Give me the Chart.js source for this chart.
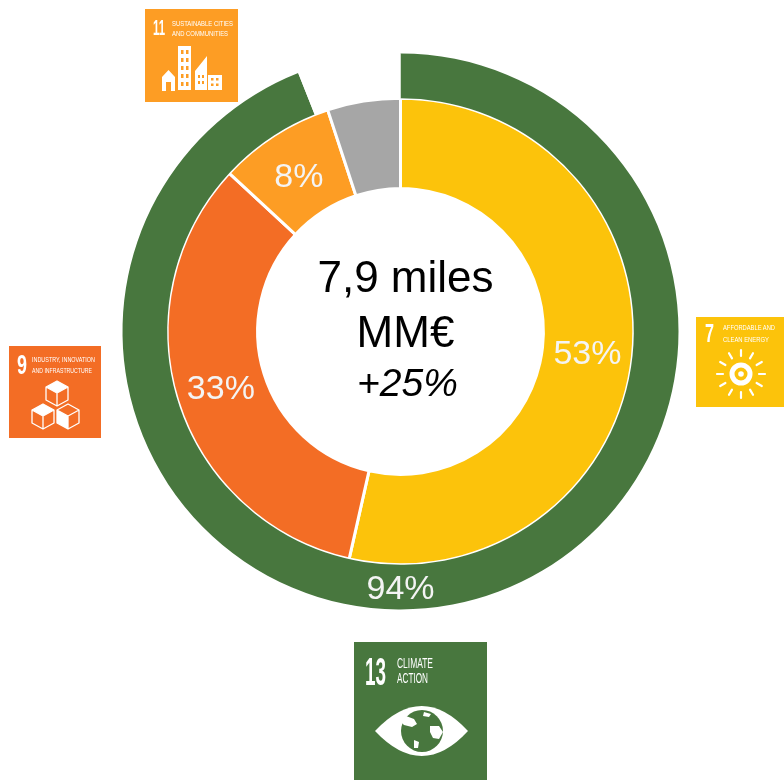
<!DOCTYPE html>
<html>
<head>
<meta charset="utf-8">
<script src="https://cdn.jsdelivr.net/npm/chart.js@4"></script>
<style>
  html, body { margin: 0; padding: 0; background: #fff; }
  #wrap { position: relative; width: 784px; height: 780px; overflow: hidden; }
  canvas { position: absolute; left: 0; top: 0; }
  .icon { position: absolute; display: block; }
  .icon > g { filter: blur(0.45px); }
  .icon text { font-family: "Liberation Sans Narrow", "Liberation Sans", sans-serif; fill: #fff; }
  .num { font-weight: bold; }
</style>
</head>
<body>
<div id="wrap">
  <canvas id="sdg-chart" width="784" height="780"></canvas>

  <!-- SDG 11 -->
  <svg class="icon" style="left:145px;top:9px" width="93" height="93" viewBox="0 0 93 93">
    <rect width="93" height="93" fill="#FD9D24"/>
    <g>
      <text class="num" x="8" y="26" font-size="22" textLength="12" lengthAdjust="spacingAndGlyphs">11</text>
      <text x="27" y="16.5" font-size="6.5" textLength="61" lengthAdjust="spacingAndGlyphs">SUSTAINABLE CITIES</text>
      <text x="27" y="27" font-size="6.5" textLength="56" lengthAdjust="spacingAndGlyphs">AND COMMUNITIES</text>
      <path d="M33 37h13v44H33z M50 81V62L62 47V81z M63 66h14v15H63z M17 68L23.5 61L30 68V82H17z" fill="#fff"/>
      <path d="M36 41h2.5v4H36z M41 41h2.5v4H41z M36 49h2.5v4H36z M41 49h2.5v4H41z M36 57h2.5v4H36z M41 57h2.5v4H41z M36 65h2.5v4H36z M41 65h2.5v4H41z M36 73h2.5v4H36z M41 73h2.5v4H41z M21 73h5v9h-5z M53 66h2v3h-2z M57 66h2v3h-2z M53 72h2v3h-2z M57 72h2v3h-2z M66 69h2.5v2.5H66z M71 69h2.5v2.5H71z M66 74.5h2.5V77H66z M71 74.5h2.5V77H71z" fill="#FD9D24"/>
    </g>
  </svg>

  <!-- SDG 9 -->
  <svg class="icon" style="left:9px;top:346px" width="92" height="92" viewBox="0 0 92 92">
    <rect width="92" height="92" fill="#F36D25"/>
    <g>
      <text class="num" x="8" y="28" font-size="27" textLength="10" lengthAdjust="spacingAndGlyphs">9</text>
      <text x="23" y="15.5" font-size="6.5" textLength="63" lengthAdjust="spacingAndGlyphs">INDUSTRY, INNOVATION</text>
      <text x="23" y="27" font-size="6.5" textLength="60" lengthAdjust="spacingAndGlyphs">AND INFRASTRUCTURE</text>
      <g fill="none" stroke="#fff" stroke-width="1.3" stroke-linejoin="round">
        <path d="M48 35L59 41V54L48 60L37 54V41z M37 41L48 47L59 41 M48 47V60" />
        <path d="M34 58L45 64V77L34 83L23 77V64z M23 64L34 70L45 64 M34 70V83" />
        <path d="M59 58L70 64V77L59 83L48 77V64z M48 64L59 70L70 64 M59 70V83" />
      </g>
      <path d="M48 35L59 41L48 47L37 41z M34 58L45 64L34 70L23 64z M48 64L59 70V83L48 77z" fill="#fff"/>
    </g>
  </svg>

  <!-- SDG 7 -->
  <svg class="icon" style="left:696px;top:317px" width="88" height="90" viewBox="0 0 88 90">
    <rect width="88" height="90" fill="#FCC30B"/>
    <g>
      <text class="num" x="9" y="25" font-size="25" textLength="9" lengthAdjust="spacingAndGlyphs">7</text>
      <text x="27" y="13" font-size="6.5" textLength="52" lengthAdjust="spacingAndGlyphs">AFFORDABLE AND</text>
      <text x="27" y="24.5" font-size="6.5" textLength="46" lengthAdjust="spacingAndGlyphs">CLEAN ENERGY</text>
      <circle cx="45" cy="57" r="9" fill="none" stroke="#fff" stroke-width="5"/>
      <circle cx="45" cy="57" r="2.8" fill="#fff"/>
      <g stroke="#fff" stroke-width="2.2" stroke-linecap="round">
        <path d="M45 39V33 M45 75V81 M27 57H21 M63 57H69 M36 41.4L33 36.2 M54 41.4L57 36.2 M36 72.6L33 77.8 M54 72.6L57 77.8 M29.4 48L24.2 45 M60.6 48L65.8 45 M29.4 66L24.2 69 M60.6 66L65.8 69"/>
      </g>
    </g>
  </svg>

  <!-- SDG 13 -->
  <svg class="icon" style="left:354px;top:642px" width="133" height="138" viewBox="0 0 133 138">
    <rect width="133" height="138" fill="#48773E"/>
    <g>
      <text class="num" x="11" y="43" font-size="39" textLength="21" lengthAdjust="spacingAndGlyphs">13</text>
      <text x="43" y="26" font-size="14" textLength="36" lengthAdjust="spacingAndGlyphs">CLIMATE</text>
      <text x="43" y="41" font-size="14" textLength="31" lengthAdjust="spacingAndGlyphs">ACTION</text>
      <path d="M21 89Q68 39 114 89Q68 139 21 89z" fill="#fff"/>
      <circle cx="68" cy="89" r="21" fill="#48773E"/>
      <path d="M52 74l8 3 3 5-5 3-8-2-3-3z M76 84l9 0 4 6-4 7-6-1-3-6z M60 98l5 2-1 6-4 0z M70 70l7 2-2 3-6-1z" fill="#fff"/>
    </g>
  </svg>
</div>

<script>
// Values
const ringLabels = ['SDG 7', 'SDG 9', 'SDG 11', 'Otros'];
const ringValues = [53, 33, 8, 5];
const ringColors = ['#FCC30B', '#F36D25', '#FD9D24', '#A6A6A6'];
const ringText = ['53%', '33%', '8%', ''];

const climateLabels = ['SDG 13', ''];
const climateValues = [94, 6];
const climateColors = ['#48773E', '#FFFFFF'];
const climateText = ['94%', ''];

const centerLines = ['7,9 miles', 'MM€', '+25%'];

// Percent labels on the slices and the text in the hole
const textPlugin = {
  id: 'sdgText',
  afterDatasetsDraw(chart) {
    const ctx = chart.ctx;
    ctx.save();
    ctx.textAlign = 'center';
    ctx.textBaseline = 'middle';

    ctx.fillStyle = '#F4F4F4';
    ctx.font = '34px "Liberation Sans", Arial, sans-serif';
    chart.getDatasetMeta(1).data.forEach((arc, i) => {
      const c = arc.getCenterPoint();
      ctx.fillText(ringText[i], c.x, c.y + (i === 2 ? 4 : 2));
    });

    // 94% sits at the bottom of the green ring, not at the middle of its arc
    const green = chart.getDatasetMeta(0).data[0];
    ctx.fillText(climateText[0], green.x, green.y + (green.innerRadius + green.outerRadius) / 2 + 2);

    ctx.fillStyle = '#000';
    const x = green.x;
    const y = green.y;
    ctx.font = '44px "Liberation Sans", Arial, sans-serif';
    ctx.fillText(centerLines[0], x + 5, y - 52);
    ctx.fillText(centerLines[1], x + 5, y + 3);
    ctx.font = 'italic 39px "Liberation Sans", Arial, sans-serif';
    ctx.fillText(centerLines[2], x + 7, y + 54);
    ctx.restore();
  }
};

const sdgChart = document.getElementById('sdg-chart');
new Chart(sdgChart, {
  type: 'doughnut',
  plugins: [textPlugin],
  data: {
    labels: ringLabels,
    datasets: [
      {
        label: 'SDG 13',
        data: climateValues,
        backgroundColor: climateColors,
        borderWidth: 0,
        weight: 44.5
      },
      {
        label: 'SDG',
        data: ringValues,
        backgroundColor: ringColors,
        borderColor: '#fff',
        borderWidth: 3,
        weight: 90
      }
    ]
  },
  options: {
    responsive: false,
    animation: false,
    cutout: '51.4%',
    layout: {
      padding: { left: 122.5, right: 105.5, top: 53.5, bottom: 170.5 }
    },
    plugins: {
      legend: { display: false },
      tooltip: { enabled: false }
    }
  }
});
</script>
</body>
</html>
